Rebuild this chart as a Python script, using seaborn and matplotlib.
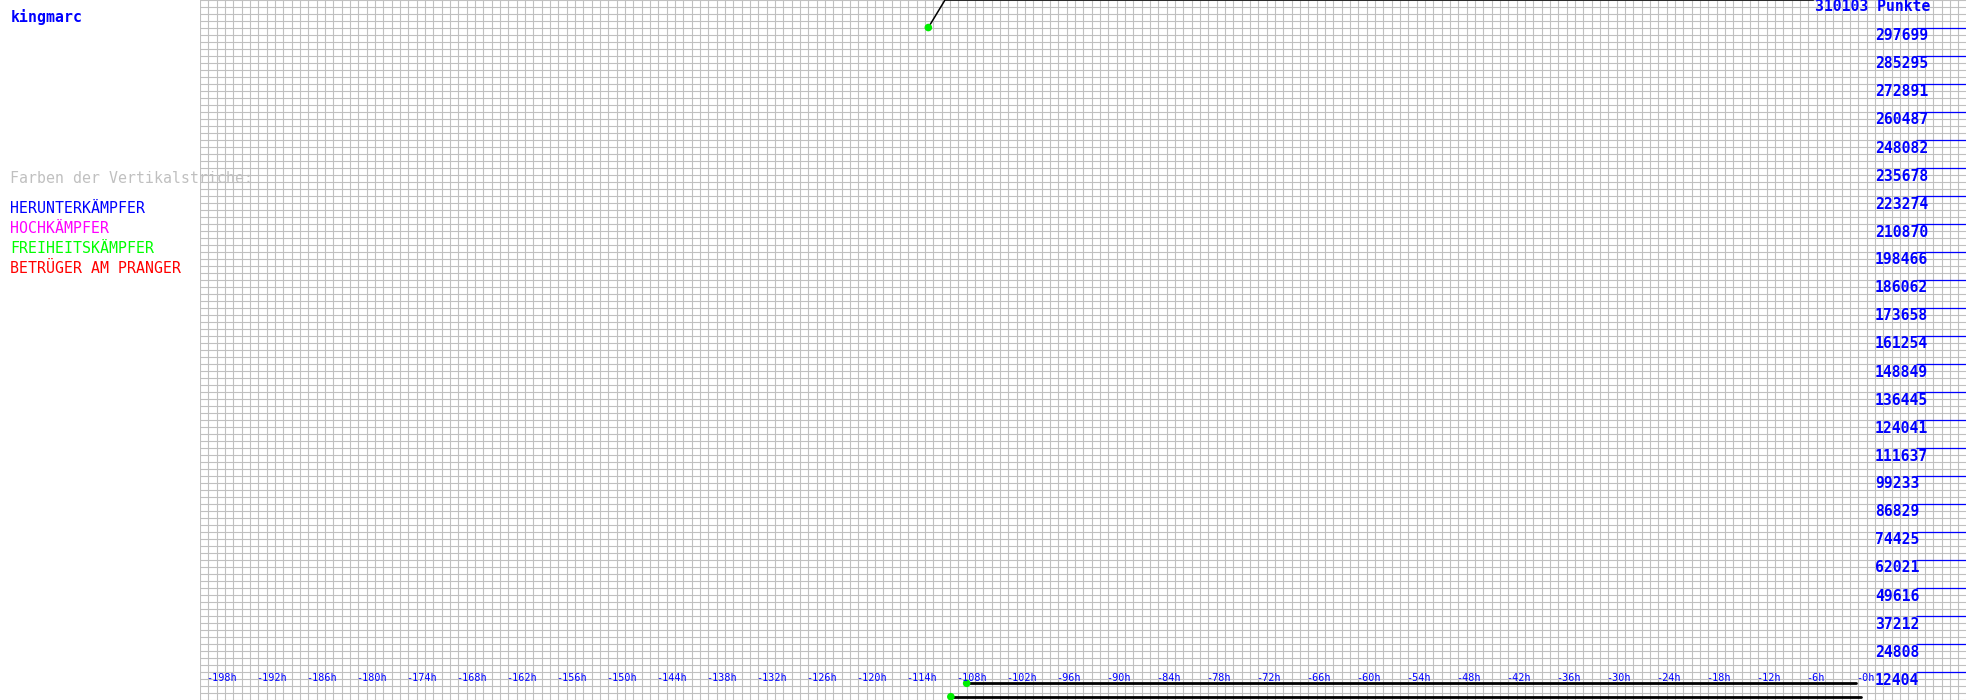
import numpy as np
import pandas as pd
import matplotlib
matplotlib.use("Agg")
import matplotlib.pyplot as plt
import matplotlib.transforms as mtransforms
from matplotlib.ticker import FixedLocator, MultipleLocator
import seaborn as sns

# ---------------- data ----------------
player = "kingmarc"
max_points = 310103
y_label_values = [12404, 24808, 37212, 49616, 62021, 74425, 86829, 99233, 111637,
                  124041, 136445, 148849, 161254, 173658, 186062, 198466, 210870,
                  223274, 235678, 248082, 260487, 272891, 285295, 297699]
x_label_hours = list(range(-198, 1, 6))
x_tick_hours = list(range(-198, 1, 3))

points_hours = [-112.6, -110.6, -6.4]
points_values = [297900, 310103, 310103]

rank_a_hours = [-108.0, -1.3]
rank_a_values = [7400, 7400]

rank_b_hours = [-109.9, -0.7]
rank_b_values = [1460, 1460]

legend_items = ["HERUNTERKÄMPFER", "HOCHKÄMPFER", "FREIHEITSKÄMPFER", "BETRÜGER AM PRANGER"]
legend_colors = ["#0000ff", "#ff00ff", "#00ff00", "#ff0000"]

# ---------------- figure ----------------
sns.set_style("white")
plt.rcParams["font.family"] = ["DejaVu Sans Mono", "DejaVu Sans"]

W, H = 1966, 700
fig = plt.figure(figsize=(W / 100, H / 100), dpi=100)
ax = fig.add_axes([200 / W, 0, 1766 / W, 1])

px_per_h = 50 / 6
ax.set_xlim(-200, -200 + 1766 / px_per_h)
ax.set_ylim(0, max_points)

grid_c = "#c0c0c0"
ax.xaxis.set_minor_locator(MultipleLocator(1))
ax.xaxis.set_major_locator(FixedLocator(x_tick_hours))
ax.yaxis.set_minor_locator(MultipleLocator(max_points / 100))
ax.yaxis.set_major_locator(FixedLocator([max_points * k / 25 for k in range(1, 25)]))
ax.grid(True, which="both", color=grid_c, linewidth=0.8)
ax.set_axisbelow(True)
for s in ax.spines.values():
    s.set_visible(False)

ax.yaxis.tick_right()
ax.tick_params(axis="x", which="major", direction="in", length=14.4, width=0.9,
               color="#0000ff", labelbottom=False)
ax.tick_params(axis="y", which="major", direction="in", length=36, width=0.9,
               color="#0000ff", labelright=False, labelleft=False, right=True, left=False)
ax.tick_params(which="minor", length=0)
for t in ax.xaxis.get_major_ticks() + ax.yaxis.get_major_ticks():
    t.tick1line.set_zorder(5)
    t.tick2line.set_zorder(5)

# series
df_pts = pd.DataFrame({"h": points_hours, "v": points_values})
df_a = pd.DataFrame({"h": rank_a_hours, "v": rank_a_values})
df_b = pd.DataFrame({"h": rank_b_hours, "v": rank_b_values})
sns.lineplot(data=df_pts, x="h", y="v", ax=ax, color="black", linewidth=1.1, zorder=6)
sns.lineplot(data=df_a, x="h", y="v", ax=ax, color="black", linewidth=2.0, zorder=6)
sns.lineplot(data=df_b, x="h", y="v", ax=ax, color="black", linewidth=2.0, zorder=6)
starts = pd.DataFrame({"h": [points_hours[0], rank_a_hours[0], rank_b_hours[0]],
                       "v": [points_values[0], rank_a_values[0], rank_b_values[0]]})
sns.scatterplot(data=starts, x="h", y="v", ax=ax, color="#00ee00", s=30,
                edgecolor="none", zorder=7, clip_on=False)
ax.set_xlabel("")
ax.set_ylabel("")

# x labels (inside, above ticks)
trans_x = mtransforms.blended_transform_factory(ax.transData, ax.transAxes)
for h in x_label_hours:
    ax.text(h - 10.7 / px_per_h, 19.3 / H, f"-{abs(h)}h", transform=trans_x,
            ha="left", va="baseline", fontsize=7.3, color="#0000ff", zorder=8)

# y labels (right, below the blue line)
for v in y_label_values:
    ax.annotate(str(v), xy=(1.0, v), xytext=(0, -9.0), textcoords="offset points",
                ha="left", va="baseline", fontsize=10.6, fontweight="bold",
                color="#0000ff", zorder=8, annotation_clip=False)
ax.annotate(f"{max_points} Punkte", xy=(-6.2, max_points), xytext=(0, -7.7),
            textcoords="offset points", ha="left", va="baseline", fontsize=10.6,
            fontweight="bold", color="#0000ff", zorder=8, annotation_clip=False)

# left panel texts
def ftext(x, y, s, color, bold=False):
    fig.text(x / W, 1 - y / H, s, ha="left", va="baseline", fontsize=10.7,
             color=color, fontweight="bold" if bold else "normal", zorder=10)

ftext(10.5, 22, player, "#0000ff", bold=True)
ftext(10, 183, "Farben der Vertikalstriche:", "#c0c0c0")
for i, (item, c) in enumerate(zip(legend_items, legend_colors)):
    ftext(10, 213.3 + 20 * i, item, c)

fig.savefig("out.png", dpi=100, facecolor="white")
